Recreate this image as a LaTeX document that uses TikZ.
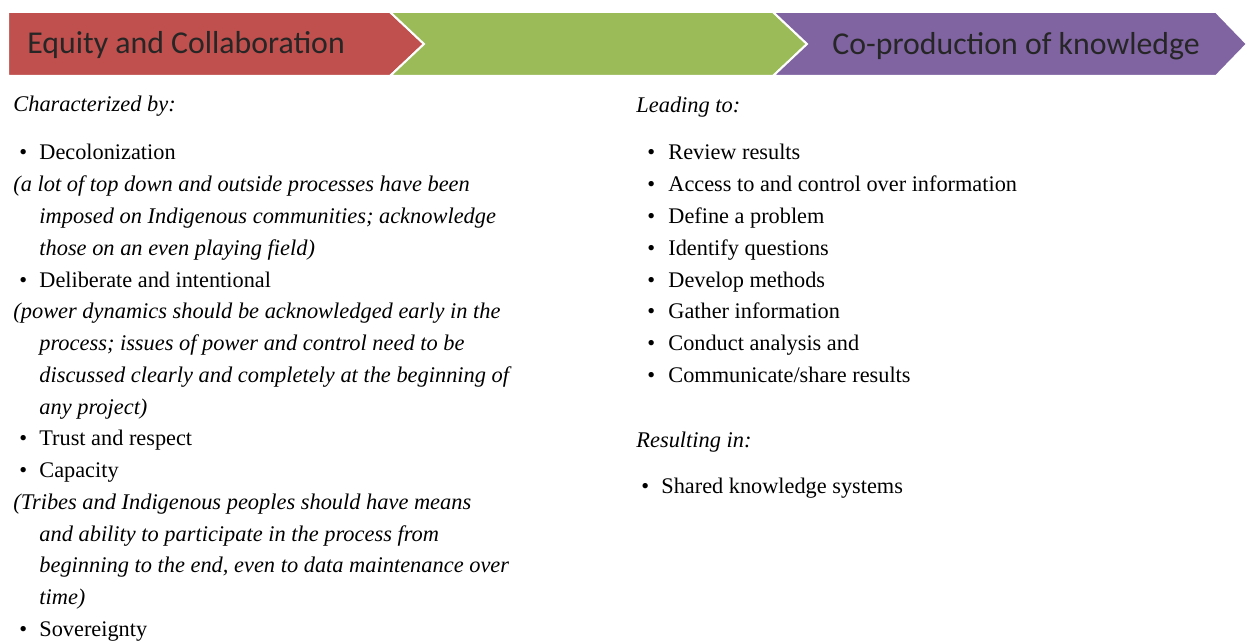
\documentclass[tikz,border=0pt]{standalone}
\usepackage{fontspec}
\setmainfont{Liberation Serif}
\newfontfamily\headfont{Carlito}
\definecolor{chevred}{HTML}{C0504D}
\definecolor{chevgreen}{HTML}{9BBB59}
\definecolor{chevpurple}{HTML}{8064A2}
\tikzset{
  chev/.style={draw=white, line width=1pt},
  headtext/.style={anchor=base west, inner sep=0pt, text=black!85,
    font=\headfont\fontsize{15.9}{18}\selectfont},
  itemtext/.style={anchor=base west, inner sep=0pt,
    font=\fontsize{11.15}{13}\selectfont},
  notetext/.style={anchor=base west, inner sep=0pt,
    font=\itshape\fontsize{11.2}{13}\selectfont},
}
\begin{document}
\begin{tikzpicture}[x=0.5pt,y=-0.5pt]
    \useasboundingbox (0,0) rectangle (1248,642);
    % chevrons
    \filldraw[chev,fill=chevred] (8,12) -- (390,12) -- (424,44) -- (390,76) -- (8,76) -- cycle;
    \filldraw[chev,fill=chevgreen] (390,12) -- (773,12) -- (807,44) -- (773,76) -- (390,76) -- (424,44) -- cycle;
    \filldraw[chev,fill=chevpurple] (773,12) -- (1216,12) -- (1247,44) -- (1216,76) -- (773,76) -- (807,44) -- cycle;
    \node[headtext] (equity) at (27,54) {Equity and Collaboration};
    \node[headtext] (coprod) at (832,55) {Co-production of knowledge};
    % left column
    \node[notetext] (charby) at (13,112) {Characterized by:};
    \foreach \y/\t [count=\i] in {160/Decolonization, 287/Deliberate and intentional,
        445.75/Trust and respect, 477.5/Capacity, 636.25/Sovereignty}
    {
        \node[itemtext] (lb\i) at (19,\y) {\textbullet};
        \node[itemtext] (lt\i) at (39,\y) {\t};
    }
    \foreach \x/\y/\t [count=\i] in {
        13/191.75/{(a lot of top down and outside processes have been},
        39/223.5/{imposed on Indigenous communities; acknowledge},
        39/255.25/{those on an even playing field)},
        13/318.75/{(power dynamics should be acknowledged early in the},
        39/350.5/{process; issues of power and control need to be},
        39/382.25/{discussed clearly and completely at the beginning of},
        39/414/{any project)},
        13/509.25/{(Tribes and Indigenous peoples should have means},
        39/541/{and ability to participate in the process from},
        39/572.75/{beginning to the end, even to data maintenance over},
        39/604.5/{time)}}
        \node[notetext] (ln\i) at (\x,\y) {\t};
    % right column
    \node[notetext] (leadto) at (636,113) {Leading to:};
    \foreach \t [count=\i] in {Review results, Access to and control over information,
        Define a problem, Identify questions, Develop methods, Gather information,
        Conduct analysis and, Communicate/share results}
    {
        \node[itemtext] (rb\i) at (647,{160+(\i-1)*31.75}) {\textbullet};
        \node[itemtext] (rt\i) at (668,{160+(\i-1)*31.75}) {\t};
    }
    \node[notetext] (resin) at (636,447) {Resulting in:};
    \node[itemtext] (sb) at (641,493) {\textbullet};
    \node[itemtext] (st) at (661,493) {Shared knowledge systems};
\end{tikzpicture}
\end{document}
